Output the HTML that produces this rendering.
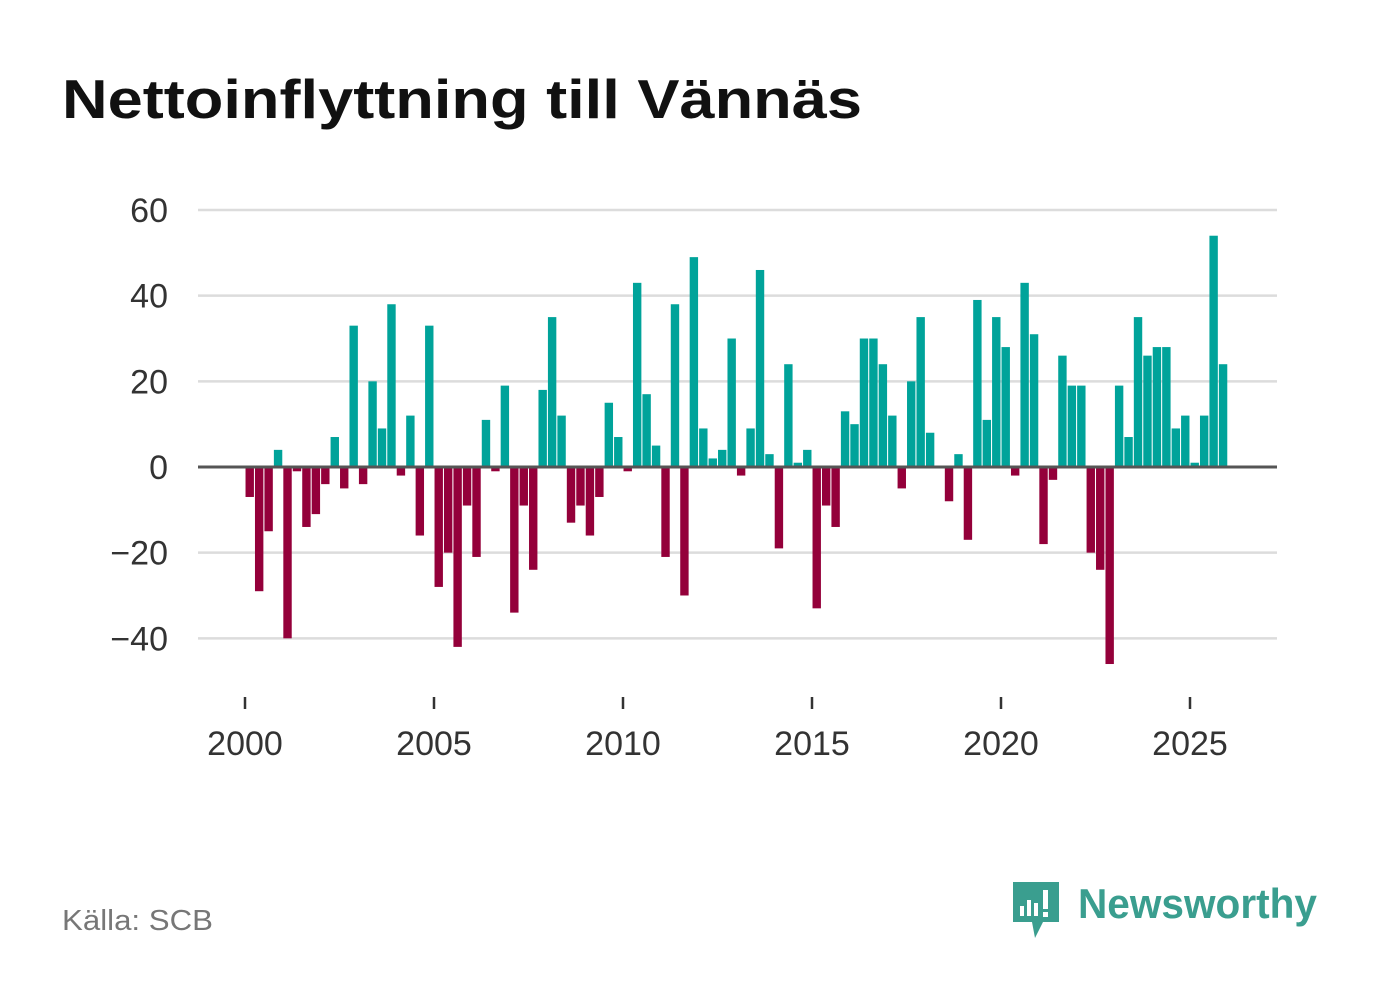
<!DOCTYPE html>
<html><head><meta charset="utf-8"><style>
body{margin:0;background:#fff;width:1382px;height:999px;overflow:hidden;font-family:"Liberation Sans",sans-serif}
</style></head><body>
<svg width="1382" height="999" xmlns="http://www.w3.org/2000/svg">
<text x="62" y="118" font-size="55" font-weight="bold" fill="#111" textLength="800" lengthAdjust="spacingAndGlyphs">Nettoinflyttning till Vännäs</text>
<g id="grid"></g>
<g id="bars"></g>
<g id="xaxis"></g>
<text x="62" y="930" font-size="29" fill="#777" textLength="151" lengthAdjust="spacingAndGlyphs">Källa: SCB</text>
<g>
<path d="M1013 882 h46 v40 h-16 l-8 16 l-3 -16 h-19 z" fill="#3a9e8f"/>
<rect x="1020" y="906" width="4" height="10" fill="#fff"/><rect x="1027" y="900" width="4" height="16" fill="#fff"/><rect x="1034" y="903" width="4" height="13" fill="#fff"/><rect x="1043" y="890" width="5" height="19" fill="#fff"/><rect x="1043" y="912" width="5" height="5" fill="#fff"/>
<text x="1078" y="918" font-size="42" font-weight="bold" fill="#3a9e8f" textLength="239" lengthAdjust="spacingAndGlyphs">Newsworthy</text>
</g>
</svg>
<script>
const categories=[];for(let y=2000;y<=2025;y++)for(let q=1;q<=4;q++)categories.push(y+"K"+q);
const values=[-7,-29,-15,4,-40,-1,-14,-11,-4,7,-5,33,-4,20,9,38,-2,12,-16,33,-28,-20,-42,-9,-21,11,-1,19,-34,-9,-24,18,35,12,-13,-9,-16,-7,15,7,-1,43,17,5,-21,38,-30,49,9,2,4,30,-2,9,46,3,-19,24,1,4,-33,-9,-14,13,10,30,30,24,12,-5,20,35,8,0,-8,3,-17,39,11,35,28,-2,43,31,-18,-3,26,19,19,-20,-24,-46,19,7,35,26,28,28,9,12,1,12,54,24];
const yTicks=[60,40,20,0,-20,-40];
const yTickLabels=["60","40","20","0","−20","−40"];
const xTicks=[2000,2005,2010,2015,2020,2025];
const NS="http://www.w3.org/2000/svg";
const y=v=>467-v*4.283;
const x=t=>245+(t-2000)*37.8;
const grid=document.getElementById('grid'),bars=document.getElementById('bars'),xa=document.getElementById('xaxis');
function mk(tag,attrs,parent){const e=document.createElementNS(NS,tag);for(const k in attrs)e.setAttribute(k,attrs[k]);parent.appendChild(e);return e;}
yTicks.forEach((t,i)=>{
 if(t!==0){const l=mk('line',{x1:198,x2:1277,y1:y(t),y2:y(t),stroke:'#dcdcdc','stroke-width':2.5},grid);
 
 }
 const tx=mk('text',{x:168,y:y(t)+12,'font-size':34,fill:'#333','text-anchor':'end'},grid);tx.textContent=yTickLabels[i];
 
 
});
values.forEach((v,i)=>{
 const cx=x(2000+(i+0.5)/4);
 const r=mk('rect',{x:cx-4.2,width:8.4,y:v>=0?y(v):y(0),height:Math.abs(v)*4.283,fill:v>=0?'#00a39a':'#94003a'},bars);
 
 
});
const z=mk('line',{x1:198,x2:1277,y1:y(0),y2:y(0),stroke:'#555','stroke-width':3},bars);


xTicks.forEach(t=>{
 const l=mk('line',{x1:x(t),x2:x(t),y1:697,y2:709,stroke:'#333','stroke-width':2.5},xa);
 
 
 const tx=mk('text',{x:x(t),y:755,'font-size':34,fill:'#333','text-anchor':'middle'},xa);tx.textContent=t;
 
 
});
</script>
</body></html>
